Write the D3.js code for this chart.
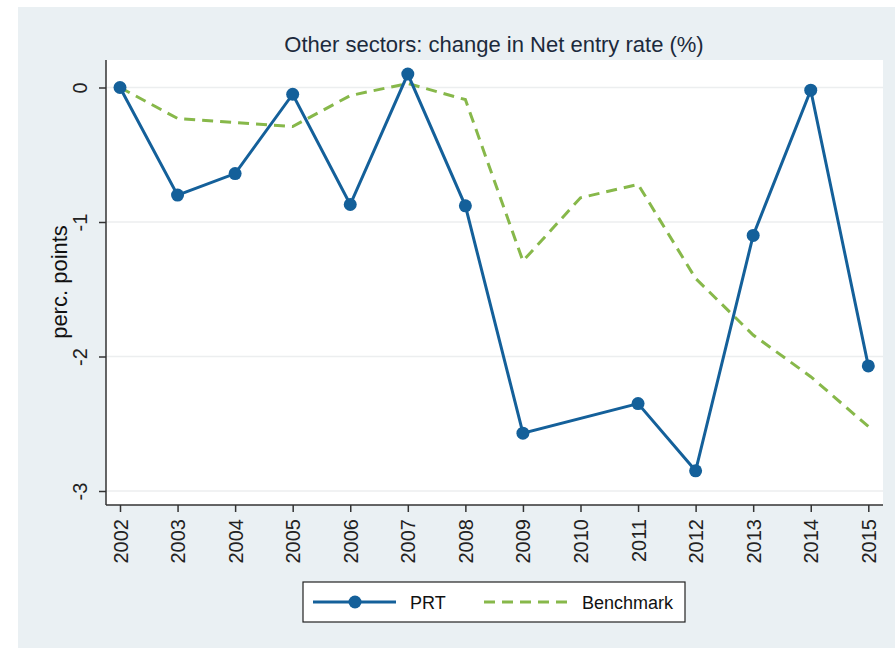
<!DOCTYPE html>
<html>
<head>
<meta charset="utf-8">
<script src="https://cdn.jsdelivr.net/npm/d3@7"></script>
<style>
  body { margin: 0; background: #fff; }
  text { font-family: Arial, "Liberation Sans", sans-serif; }
</style>
</head>
<body>
<div class="chart"></div>
<script>
var years = [2002, 2003, 2004, 2005, 2006, 2007, 2008, 2009, 2010, 2011, 2012, 2013, 2014, 2015];
// PRT has no value for 2010
var prt = [0, -0.80, -0.64, -0.05, -0.87, 0.10, -0.88, -2.57, null, -2.35, -2.85, -1.10, -0.02, -2.07];
var benchmark = [0, -0.23, -0.26, -0.29, -0.06, 0.03, -0.09, -1.29, -0.82, -0.72, -1.42, -1.84, -2.15, -2.52];
var yTicks = [0, -1, -2, -3];

const width = 895;
const height = 648;
const blue = "#14609a";
const green = "#87b84a";

const svg = d3.select('.chart')
    .append('svg')
    .attr('width', width)
    .attr('height', height);

// outer background
svg.append('rect')
    .attr('x', 18).attr('y', 7)
    .attr('width', width - 18).attr('height', height - 7)
    .attr('fill', '#eaf0f3');

// plot region
const plot = { left: 106, right: 883, top: 60, bottom: 505 };
svg.append('rect')
    .attr('x', plot.left).attr('y', plot.top)
    .attr('width', plot.right - plot.left).attr('height', plot.bottom - plot.top)
    .attr('fill', '#fff');

const x = d3.scaleLinear().domain([2002, 2015]).range([120, 868.3]);
const y = d3.scaleLinear().domain([-3, 0]).range([491, 87.5]);

// gridlines
svg.append('g')
    .selectAll('line')
    .data(yTicks)
    .enter()
    .append('line')
        .attr('x1', plot.left).attr('x2', plot.right)
        .attr('y1', d => y(d)).attr('y2', d => y(d))
        .attr('stroke', '#eceeef')
        .attr('stroke-width', 1.5);

// y axis
const yAxis = svg.append('g')
    .attr('transform', 'translate(' + plot.left + ',0)')
    .call(d3.axisLeft(y).tickValues(yTicks).tickFormat(d => String(d)).tickSize(7).tickPadding(0));
yAxis.select('.domain').attr('d', 'M0,' + plot.top + 'V' + plot.bottom).attr('stroke', '#333').attr('stroke-width', 1.5);
yAxis.selectAll('.tick line').attr('stroke', '#333').attr('stroke-width', 1.5);
yAxis.selectAll('.tick text')
    .attr('x', null).attr('dy', null)
    .attr('transform', 'translate(-19,0) rotate(-90)')
    .attr('text-anchor', 'middle')
    .attr('font-size', '20px')
    .attr('fill', '#222');

// x axis
const xAxis = svg.append('g')
    .attr('transform', 'translate(0,' + plot.bottom + ')')
    .call(d3.axisBottom(x).tickValues(years).tickFormat(d3.format('d')).tickSize(7));
xAxis.select('.domain').attr('d', 'M' + plot.left + ',0H' + plot.right).attr('stroke', '#333').attr('stroke-width', 1.5);
xAxis.selectAll('.tick line').attr('stroke', '#333').attr('stroke-width', 1.5);
xAxis.selectAll('.tick text')
    .attr('y', null).attr('dy', null)
    .attr('transform', 'translate(7,14) rotate(-90)')
    .attr('text-anchor', 'end')
    .attr('font-size', '20px')
    .attr('fill', '#222');

// benchmark line
svg.append('path')
    .datum(years.map((yr, i) => [yr, benchmark[i]]))
    .attr('fill', 'none')
    .attr('stroke', green)
    .attr('stroke-width', 3)
    .attr('stroke-dasharray', '11,7')
    .attr('d', d3.line().x(d => x(d[0])).y(d => y(d[1])));

// PRT line (skip missing year)
var prtData = years.map((yr, i) => [yr, prt[i]]).filter(d => d[1] !== null);
svg.append('path')
    .datum(prtData)
    .attr('fill', 'none')
    .attr('stroke', blue)
    .attr('stroke-width', 3)
    .attr('d', d3.line().x(d => x(d[0])).y(d => y(d[1])));

svg.append('g')
    .selectAll('circle')
    .data(prtData)
    .enter()
    .append('circle')
        .attr('cx', d => x(d[0]))
        .attr('cy', d => y(d[1]))
        .attr('r', 6.5)
        .attr('fill', blue);

// title
svg.append('text')
    .attr('x', 494).attr('y', 52)
    .attr('text-anchor', 'middle')
    .attr('font-size', '22px')
    .attr('fill', '#1c2a3c')
    .text('Other sectors: change in Net entry rate (%)');

// y label
svg.append('text')
    .attr('transform', 'translate(67,282) rotate(-90)')
    .attr('text-anchor', 'middle')
    .attr('font-size', '22px')
    .attr('fill', '#111')
    .text('perc. points');

// legend
const legend = svg.append('g');
legend.append('rect')
    .attr('x', 303).attr('y', 582)
    .attr('width', 382).attr('height', 40)
    .attr('fill', '#fff')
    .attr('stroke', '#222')
    .attr('stroke-width', 1.2);
legend.append('line')
    .attr('x1', 313).attr('x2', 396).attr('y1', 602).attr('y2', 602)
    .attr('stroke', blue).attr('stroke-width', 3);
legend.append('circle')
    .attr('cx', 355).attr('cy', 602).attr('r', 6.5)
    .attr('fill', blue);
legend.append('text')
    .attr('x', 410).attr('y', 609)
    .attr('font-size', '18px').attr('fill', '#111')
    .text('PRT');
legend.append('line')
    .attr('x1', 484).attr('x2', 567).attr('y1', 602).attr('y2', 602)
    .attr('stroke', green).attr('stroke-width', 3)
    .attr('stroke-dasharray', '11,7');
legend.append('text')
    .attr('x', 582).attr('y', 609)
    .attr('font-size', '18px').attr('fill', '#111')
    .text('Benchmark');
</script>
</body>
</html>
